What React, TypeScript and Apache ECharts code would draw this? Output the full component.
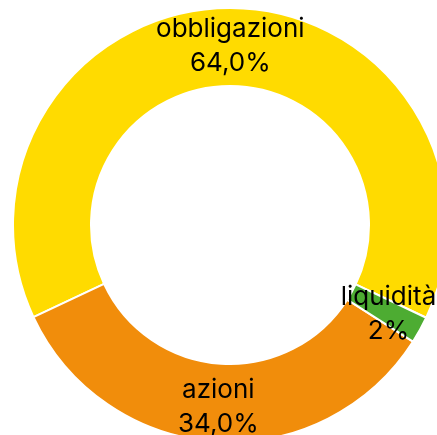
import React, { useEffect, useRef } from "react";
import * as echarts from "echarts";

const categories = ["obbligazioni", "azioni", "liquidità"];
const values = [64, 34, 2];
const valueLabels = ["64,0%", "34,0%", "2%"];
const colors = ["#FFDB00", "#F18D0B", "#4DAC32"];

export default function App() {
  const ref = useRef<HTMLDivElement>(null);
  useEffect(() => {
    if (!ref.current) return;
    const chart = echarts.init(ref.current, undefined, { renderer: "svg" });
    chart.setOption({
      animation: false,
      series: [
        {
          type: "pie",
          center: [230, 225],
          radius: [139, 217],
          startAngle: 334.7,
          clockwise: false,
          avoidLabelOverlap: false,
          itemStyle: { borderColor: "#ffffff", borderWidth: 2 },
          label: {
            show: true,
            position: "inside",
            color: "#000000",
            fontFamily: "Inter",
            fontSize: 26,
            lineHeight: 34,
            formatter: (p: any) => `${p.name}\n${valueLabels[p.dataIndex]}`,
          },
          labelLine: { show: false },
          data: categories.map((c, i) => ({
            name: c,
            value: values[i],
            itemStyle: { color: colors[i] },
          })),
        },
      ],
    });
    return () => chart.dispose();
  }, []);
  return (
    <div
      ref={ref}
      style={{ position: "fixed", left: 0, top: 0, width: 437, height: 435 }}
    />
  );
}
